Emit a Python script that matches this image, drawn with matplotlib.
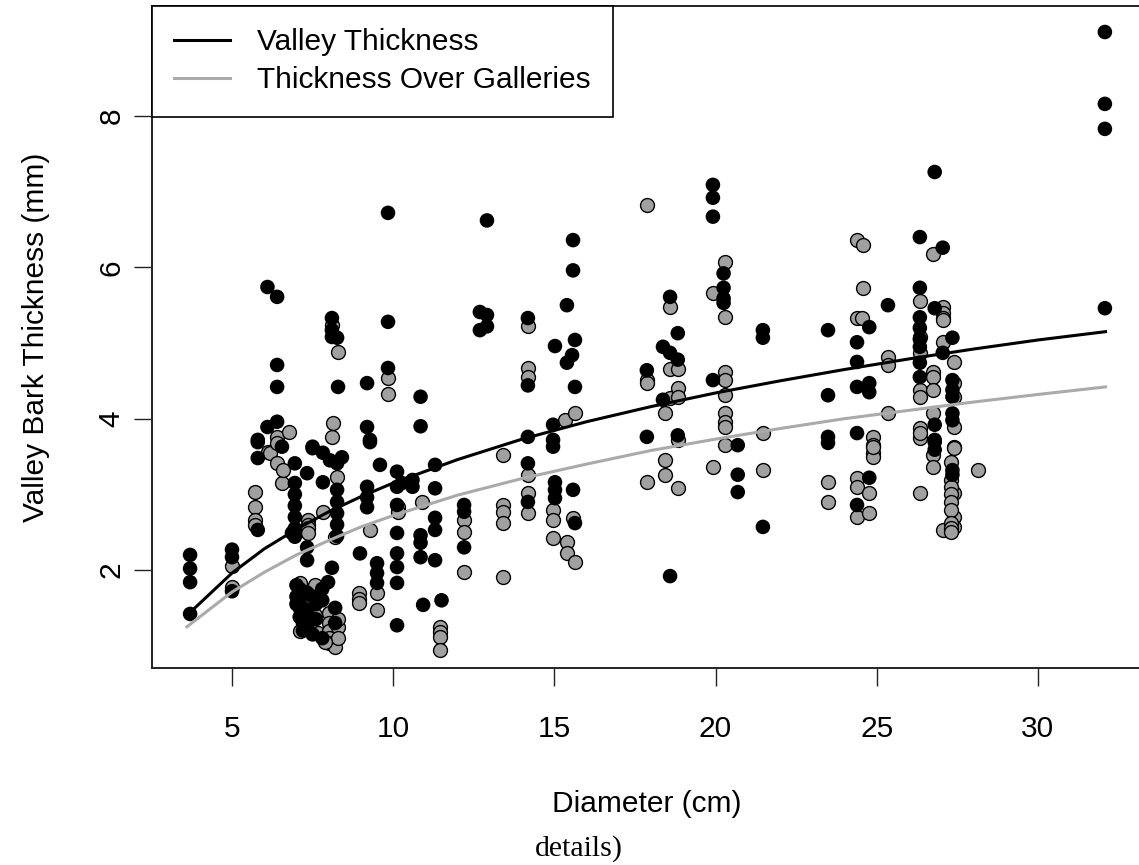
import matplotlib
matplotlib.use("Agg")
import matplotlib.pyplot as plt

plt.rcParams['font.family'] = ['Liberation Sans', 'DejaVu Sans']

# valley (black) measurements: diameter (cm), bark thickness (mm)
valley_diam = (
    [3.7] * 4 + [5.0] * 3 + [5.8] * 4 + [6.1] * 2 + [6.4] * 4 + [6.55]
    + [6.95] * 7 + [6.86] + [7.1] * 4 + [7.33] * 6 + [7.5] * 2 + [7.6] * 2
    + [7.82] * 2 + [7.98] + [8.04] + [8.1] * 4 + [8.26] * 7 + [8.29] + [8.41]
    + [8.2] * 2 + [8.97] + [9.19] * 5 + [9.28] * 2 + [9.5] * 3 + [9.59]
    + [9.84] * 3 + [10.12] * 8 + [10.27] + [10.6] * 2 + [10.85] * 5 + [10.93]
    + [11.3] * 5 + [11.5] + [12.2] * 3 + [12.69] * 2 + [12.91] * 3
    + [14.18] * 5 + [14.96] * 3 + [15.02] * 4 + [15.39] * 2 + [15.55]
    + [15.58] * 3 + [15.64] * 3 + [17.87] * 2 + [18.37] * 2 + [18.59] * 3
    + [18.83] * 3 + [19.92] * 4 + [20.25] * 4 + [20.69] * 3 + [21.47] * 3
    + [23.49] * 4 + [24.39] * 5 + [24.77] * 4 + [25.35] + [26.34] * 8
    + [26.8] * 6 + [27.05] * 2 + [27.35] * 8 + [32.08] * 4
    + [7.0] * 3 + [7.2] * 3 + [7.5] * 2 + [7.8] * 3
)
valley_mm = [
    2.20, 2.02, 1.84, 1.42,
    2.27, 2.17, 1.72,
    3.72, 3.69, 3.48, 2.53,
    5.74, 3.89,
    5.61, 4.71, 4.42, 3.96,
    3.63,
    3.41, 3.15, 3.00, 2.85, 2.70, 2.55, 2.44,
    2.49,
    1.75, 1.62, 1.50, 1.38,
    3.28, 2.30, 2.13, 1.70, 1.45, 1.25,
    3.61, 3.63,
    1.55, 1.35,
    3.55, 3.16,
    1.84,
    3.45,
    5.33, 5.17, 5.08, 2.03,
    5.07, 3.41, 3.06, 2.90, 2.75, 2.60, 2.45,
    4.42,
    3.49,
    1.50, 1.30,
    2.22,
    4.47, 3.89, 3.10, 2.96, 2.83,
    3.72, 3.69,
    2.09, 1.96, 1.83,
    3.39,
    6.72, 5.28, 4.67,
    3.30, 3.10, 2.86, 2.49, 2.22, 2.04, 1.83, 1.27,
    3.15,
    3.19, 3.10,
    4.29, 3.90, 2.46, 2.36, 2.17,
    1.54,
    3.39, 3.08, 2.69, 2.53, 2.13,
    1.60,
    2.86, 2.77, 2.30,
    5.41, 5.17,
    6.62, 5.37, 5.22,
    5.33, 4.44, 3.76, 3.41, 2.90,
    3.92, 3.72, 3.63,
    4.96, 3.16, 3.06, 2.95,
    5.50, 4.74,
    4.84,
    6.36, 5.96, 3.06,
    5.04, 4.42, 2.62,
    4.64, 3.76,
    4.95, 4.25,
    5.61, 4.87, 1.92,
    5.13, 4.78, 3.78,
    7.09, 6.92, 6.67, 4.51,
    5.92, 5.73, 5.59, 5.53,
    3.65, 3.26, 3.03,
    5.17, 5.07, 2.57,
    5.17, 4.31, 3.76, 3.68,
    5.01, 4.75, 4.42, 3.81, 2.86,
    5.21, 4.47, 4.35, 3.22,
    5.50,
    6.40, 5.73, 5.34, 5.20, 5.05, 4.95, 4.74, 4.55,
    7.26, 5.46, 3.92, 3.72, 3.69, 3.59,
    6.26, 4.87,
    5.07, 4.51, 4.38, 4.29, 4.07, 3.98, 3.32, 3.26,
    9.11, 8.16, 7.83, 5.46,
    1.80, 1.65, 1.55,
    1.50, 1.30, 1.20,
    1.65, 1.15,
    1.75, 1.60, 1.10,
]

# thickness over galleries (grey)
gallery_diam = (
    [5.0] * 2 + [5.7] * 4 + [6.12] + [6.18] + [6.39] * 3 + [6.55] + [6.58]
    + [6.77] + [7.11] * 2 + [7.36] * 4 + [7.57] * 2 + [7.67] + [7.82]
    + [8.0] * 5 + [8.1] * 2 + [8.13] + [8.2] * 2 + [8.26] + [8.29]
    + [8.94] * 3 + [9.28] + [9.5] * 2 + [9.84] * 2 + [10.15] * 2 + [10.9]
    + [11.45] * 4 + [12.2] * 3 + [13.41] * 5 + [14.18] * 6 + [14.96] * 3
    + [15.33] + [15.4] * 2 + [15.58] + [15.64] * 2 + [17.87] * 4
    + [18.43] * 3 + [18.59] * 3 + [18.83] * 5 + [19.92] * 2 + [20.29] * 9
    + [21.47] * 2 + [23.49] * 2 + [24.39] * 5 + [24.57] * 2 + [24.54]
    + [24.77] * 2 + [24.88] * 5 + [25.35] * 3 + [26.34] * 9 + [26.75] * 7
    + [27.05] * 6 + [27.4] * 9 + [27.3] * 9 + [28.14]
    + [7.3] * 2 + [8.3] * 3 + [7.9]
)
gallery_mm = [
    2.05, 1.78,
    3.03, 2.83, 2.66, 2.60,
    3.56,
    3.55,
    3.76, 3.68, 3.41,
    3.15,
    3.32,
    3.82,
    1.83, 1.20,
    2.66, 2.60, 2.55, 2.49,
    1.80, 1.40,
    1.17,
    2.77,
    1.43, 1.30, 1.20, 1.10, 1.04,
    5.24, 3.76,
    3.94,
    2.44, 0.98,
    3.23,
    4.88,
    1.70, 1.62, 1.56,
    2.53,
    1.70, 1.47,
    4.54, 4.33,
    2.83, 2.77,
    2.90,
    1.25, 1.18, 1.12, 0.94,
    2.66, 2.50, 1.97,
    3.52, 2.86, 2.77, 2.62, 1.91,
    5.22, 4.67, 4.55, 3.25, 3.02, 2.75,
    2.79, 2.66, 2.42,
    3.98,
    2.37, 2.22,
    2.69,
    4.07, 2.10,
    6.82, 4.51, 4.47, 3.16,
    4.07, 3.45, 3.26,
    5.48, 4.66, 4.27,
    4.66, 4.40, 4.29, 3.72, 3.08,
    5.66, 3.36,
    6.07, 5.34, 4.62, 4.51, 4.31, 4.07, 3.95, 3.89, 3.65,
    3.81, 3.32,
    3.16, 2.90,
    6.36, 5.33, 3.22, 3.10, 2.70,
    6.30, 5.73,
    5.33,
    3.02, 2.75,
    3.76, 3.65, 3.55, 3.50, 3.63,
    4.82, 4.71, 4.07,
    5.55, 5.08, 4.87, 4.38, 4.29, 3.88, 3.74, 3.81, 3.02,
    6.18, 4.62, 4.55, 4.38, 4.07, 3.52, 3.36,
    5.48, 5.40, 5.33, 5.30, 5.01, 2.53,
    4.75, 4.47, 4.29, 3.89, 3.63, 3.61, 3.02, 2.70, 2.57,
    3.43, 3.19, 3.10, 3.00, 2.90, 2.80, 2.62, 2.55, 2.50,
    3.32,
    1.60, 1.35,
    1.25, 1.10, 1.35,
    1.05,
]

# fitted curves
fit_diam = [3.6, 5, 6, 7, 8, 9, 10, 12, 14, 16, 18, 20, 22, 24, 26, 28, 30, 32.1]
fit_valley = [1.40, 1.96, 2.28, 2.54, 2.77, 2.97, 3.15, 3.46, 3.73, 3.96,
              4.16, 4.34, 4.50, 4.65, 4.79, 4.92, 5.04, 5.15]
fit_gallery = [1.25, 1.71, 1.97, 2.20, 2.39, 2.57, 2.72, 2.99, 3.21, 3.40,
               3.58, 3.73, 3.87, 4.00, 4.11, 4.22, 4.32, 4.42]

fig = plt.figure(figsize=(11.39, 8.65), dpi=100)
ax = fig.add_axes([0.1335, 0.2277, 0.8691, 0.7654])

ax.scatter(gallery_diam, gallery_mm, s=100, c='#a0a0a0', edgecolors='black',
           linewidths=1.0, zorder=2)
ax.scatter(valley_diam, valley_mm, s=110, c='black', edgecolors='none', zorder=3)

ax.plot(fit_diam, fit_valley, color='black', lw=2.2, zorder=4, label='Valley Thickness')
ax.plot(fit_diam, fit_gallery, color='#aaaaaa', lw=2.2, zorder=4,
        label='Thickness Over Galleries')

ax.set_xlim(2.52, 33.23)
ax.set_ylim(0.705, 9.454)
ax.set_xticks([5, 10, 15, 20, 25, 30])
ax.set_yticks([2, 4, 6, 8])
ax.tick_params(direction='out', length=13, width=1, labelsize=21.5, color='#222222')
ax.tick_params(axis='x', pad=21)
ax.tick_params(axis='y', pad=6)
for lab in ax.get_yticklabels():
    lab.set_rotation(90)
    lab.set_va('center')
for sp in ax.spines.values():
    sp.set_linewidth(1.4)
    sp.set_color('#222222')

ax.set_xlabel('Diameter (cm)', fontsize=21.5, labelpad=34)
ax.set_ylabel('Valley Bark Thickness (mm)', fontsize=21.5, labelpad=34)

leg = ax.legend(loc='upper left', bbox_to_anchor=(0, 1), borderaxespad=0,
                fontsize=21.5, fancybox=False, framealpha=1, edgecolor='black',
                handlelength=1.85, handletextpad=0.9, borderpad=0.75,
                labelspacing=0.33)
leg.get_frame().set_linewidth(1.2)

fig.text(0.508, 0.003, 'details)', family='Liberation Serif', fontsize=21.5,
         ha='center', va='bottom')

fig.savefig('out.png', dpi=100)
